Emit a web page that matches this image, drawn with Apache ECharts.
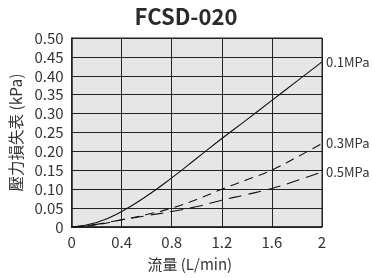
<!DOCTYPE html>
<html>
	<head>
		<meta charset="utf-8">
		<title>FCSD-020</title>
		<script src="https://cdn.jsdelivr.net/npm/echarts@6/dist/echarts.min.js"></script>
		<style>
			* { padding: 0; margin: 0; }
			body { background: #fff; }
			#main { width: 372px; height: 278px; }
		</style>
	</head>
	<body>
		<div id="main"></div>
	</body>
	<script type="text/javascript">
		// 流量 (L/min)
		var flow = [0, 0.2, 0.4, 0.6, 0.8, 1.0, 1.2, 1.4, 1.6, 1.8, 2.0];
		// 壓力損失 (kPa)
		var loss01 = [0, 0.012, 0.041, 0.082, 0.13, 0.182, 0.234, 0.284, 0.335, 0.386, 0.437];
		var loss03 = [0, 0.006, 0.019, 0.033, 0.05, 0.073, 0.1, 0.125, 0.151, 0.185, 0.221];
		var loss05 = [0, 0.007, 0.019, 0.03, 0.041, 0.054, 0.071, 0.086, 0.102, 0.123, 0.146];
		var seriesNames = ['0.1MPa', '0.3MPa', '0.5MPa'];
		var xTickLabels = ['0', '0.4', '0.8', '1.2', '1.6', '2'];
		var yTickLabels = ['0', '0.05', '0.10', '0.15', '0.20', '0.25', '0.30', '0.35', '0.40', '0.45', '0.50'];

		var font = '"Noto Sans CJK TC", "Noto Sans", sans-serif';
		var ink = '#222';

		function pairs(ys) {
			var out = [];
			for (var i = 0; i < flow.length; i++) {
				out.push([flow[i], ys[i]]);
			}
			return out;
		}

		function line(name, ys, dash) {
			return {
				name: name,
				type: 'line',
				data: pairs(ys),
				smooth: true,
				symbol: 'none',
				lineStyle: { color: '#111', width: 1.1, type: dash },
				endLabel: {
					show: true,
					formatter: '{a}',
					fontFamily: font,
					fontSize: 13,
					color: '#333',
					distance: 4
				}
			};
		}

		var myChart = echarts.init(document.getElementById('main'));
		var option = {
			animation: false,
			textStyle: { fontFamily: font },
			title: {
				text: 'FCSD-020',
				left: 'center',
				top: 1,
				textStyle: { fontFamily: font, fontSize: 22, fontWeight: 'bold', color: '#2a2a2a' }
			},
			grid: {
				left: 70,
				right: 50,
				top: 38,
				bottom: 51,
				show: true,
				backgroundColor: '#e6e6e6',
				borderColor: ink,
				borderWidth: 1
			},
			xAxis: {
				type: 'value',
				min: 0,
				max: 2,
				interval: 0.4,
				name: '流量 (L/min)',
				nameLocation: 'middle',
				nameGap: 30,
				nameTextStyle: { fontFamily: font, fontSize: 15, color: '#333', padding: [0, 14, 0, 0] },
				axisLine: { show: true, lineStyle: { color: ink, width: 1.5 } },
				axisTick: { show: false },
				axisLabel: {
					margin: 8,
					fontSize: 15,
					color: '#333',
					formatter: function (v) { return xTickLabels[Math.round(v / 0.4)]; }
				},
				splitLine: { show: true, lineStyle: { color: ink, width: 1 } }
			},
			yAxis: {
				type: 'value',
				min: 0,
				max: 0.5,
				interval: 0.05,
				name: '壓力損失表 (kPa)',
				nameLocation: 'middle',
				nameGap: 41,
				nameTextStyle: { fontFamily: font, fontSize: 15.5, color: '#333', padding: [0, 0, 0, 0] },
				axisLine: { show: true, lineStyle: { color: ink, width: 1.5 } },
				axisTick: { show: false },
				axisLabel: {
					margin: 8,
					fontSize: 15,
					color: '#333',
					formatter: function (v) { return yTickLabels[Math.round(v / 0.05)]; }
				},
				splitLine: { show: true, lineStyle: { color: ink, width: 1 } }
			},
			series: [
				line(seriesNames[0], loss01, 'solid'),
				line(seriesNames[1], loss03, [9, 6]),
				line(seriesNames[2], loss05, [13, 7])
			]
		};
		myChart.setOption(option);
	</script>
</html>
